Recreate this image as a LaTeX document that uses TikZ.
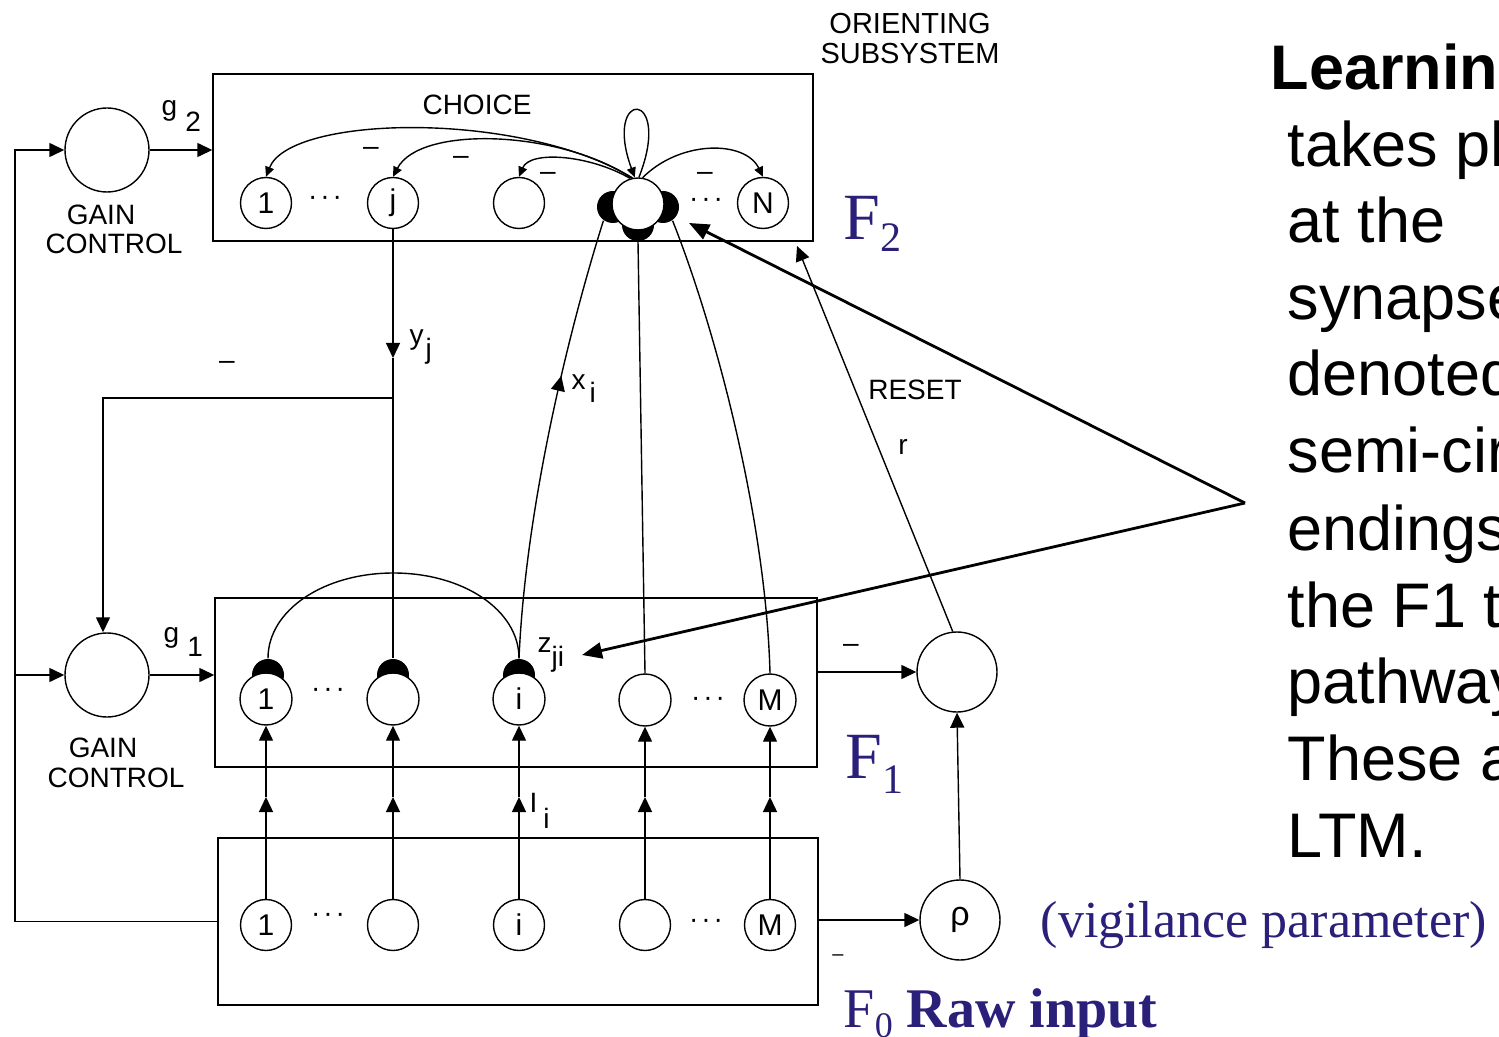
\documentclass[tikz,border=0pt]{standalone}
\usepackage{fontspec}
\setmainfont{Liberation Serif}
\setsansfont{Liberation Sans}
\usetikzlibrary{arrows.meta,decorations.markings}
\definecolor{fblue}{RGB}{42,32,122}
\begin{document}
\begin{tikzpicture}[x=0.5pt,y=-0.5pt,line width=0.7pt,
  arr/.style={-{Triangle[length=7.5pt,width=7pt]}},
  inharr/.style={-{Triangle[length=5pt,width=4.5pt]}},
  bigarr/.style={line width=1.4pt,-{Triangle[length=10pt,width=8pt]}},
  midarr/.style={postaction={decorate},decoration={markings,mark=at position 0.64 with {\arrow{Triangle[length=7.5pt,width=7pt]}}}},
  nd/.style={circle,draw,fill=white,inner sep=0pt,minimum size=25.5pt,font=\sffamily\fontsize{15}{15}\selectfont},
  gc/.style={circle,draw,fill=white,inner sep=0pt,minimum size=42pt},
  blackcap/.style={circle,fill=black,inner sep=0pt,minimum size=16pt},
  layer/.style={draw,inner sep=0pt},
  lbl/.style={font=\sffamily\fontsize{14}{15}\selectfont,inner sep=0pt},
  minus/.style={font=\sffamily\fontsize{14}{14}\selectfont,inner sep=0pt},
  dots/.style={font=\sffamily\fontsize{14}{14}\selectfont,inner sep=0pt},
  bluef/.style={text=fblue,font=\rmfamily\fontsize{33}{33}\selectfont,inner sep=0pt,anchor=base west},
  side/.style={font=\sffamily\fontsize{31.5}{31.5}\selectfont,inner sep=0pt,anchor=base west}]
\useasboundingbox (0,0) rectangle (1499,1037);
\clip (0,0) rectangle (1499,1037);

% layers
\node[layer,minimum width=300pt,minimum height=83.5pt] (F2box) at (513,157.5) {};
\node[layer,minimum width=301pt,minimum height=84.5pt] (F1box) at (516,682.5) {};
\node[layer,minimum width=300pt,minimum height=83.5pt] (F0box) at (518,921.5) {};

% F2 units
\node[blackcap] (dL) at (613,207) {};
\node[blackcap] (dR) at (663,207) {};
\node[blackcap] (dB) at (638,225) {};
\node[nd,minimum size=26pt] (big) at (638,204) {};
\node[nd] (n1) at (266,203) {1};
\node[nd] (nj) at (393,203) {j};
\node[nd] (nb) at (519,203) {};
\node[nd] (nN) at (763,203) {N};
\node[dots] (d2a) at (325,201) {·\hspace{1.5pt}·\hspace{1.5pt}·};
\node[dots] (d2b) at (706,203) {·\hspace{1.5pt}·\hspace{1.5pt}·};

% F1 units
\node[blackcap] (c1) at (268,675) {};
\node[blackcap] (c2) at (393,675) {};
\node[blackcap] (ci) at (519,675) {};
\node[nd,minimum size=26pt] (m1) at (266,699) {1};
\node[nd,minimum size=26pt] (m2) at (393,699) {};
\node[nd,minimum size=26pt] (mi) at (519,699) {i};
\node[nd,minimum size=26pt] (m4) at (645,700) {};
\node[nd,minimum size=26pt] (mM) at (770,700) {M};
\node[dots] (d1a) at (328,693) {·\hspace{1.5pt}·\hspace{1.5pt}·};
\node[dots] (d1b) at (708,702) {·\hspace{1.5pt}·\hspace{1.5pt}·};

% F0 units
\node[nd] (s1) at (266,925) {1};
\node[nd] (s2) at (393,925) {};
\node[nd] (si) at (519,925) {i};
\node[nd] (s4) at (645,925) {};
\node[nd] (sM) at (770,925) {M};
\node[dots] (d0a) at (328,918) {·\hspace{1.5pt}·\hspace{1.5pt}·};
\node[dots] (d0b) at (706,924) {·\hspace{1.5pt}·\hspace{1.5pt}·};

% gain controls and orienting
\node[gc] (g2) at (107,150) {};
\node[gc] (g1) at (107,675) {};
\node[gc,minimum size=40pt] (orient) at (957,672) {};
\node[gc,minimum size=40pt,font=\sffamily\fontsize{17}{17}\selectfont] (rho) at (960,920) {ρ};

% coordinates
\coordinate (Lb) at (15,922);
\coordinate (yj) at (393,358);
\coordinate (br) at (393,398);
\coordinate (brl) at (103,398);
\coordinate (rs) at (797,246);
\coordinate (mid) at (0,797);
\coordinate (pt) at (1245,503);
\coordinate (pA) at (689,223);
\coordinate (pB) at (582,655);

% connectors
\draw[arr] (g2.east) -- (g2.east -| F2box.west);
\draw[arr] (F0box.west) -- (F0box.west -| Lb) -- (Lb |- g2.west) -- (g2.west);
\draw[arr] (Lb |- g1.west) -- (g1.west);
\draw[arr] (g1.east) -- (g1.east -| F1box.west);
\draw[arr] (nj.south) -- (yj);
\draw (yj) -- (c2.north);
\draw[arr] (br) -- (brl) -- (brl |- g1.north);
\draw (c1.north) .. controls (268,610) and (324,573) .. (393.5,573) .. controls (463,573) and (519,610) .. (ci.north);
\draw[midarr] (ci.north) .. controls (526,500) and (572,320) .. (dL.235);
\draw (m4.north) -- (dB.south);
\draw (mM.north) .. controls (766,520) and (716,330) .. (dR.-55);
\draw[arr] (orient.96) -- (rs);
\draw[arr] (orient.west -| F1box.east) -- (orient.west);
\draw[arr] (rho.north) -- (orient.south);
\draw[arr] (rho.west -| F0box.east) -- (rho.west);
\foreach \a/\b in {s1/m1,s2/m2,si/mi,s4/m4,sM/mM}{
  \draw[arr] (\a.north) -- (\a.north |- mid);
  \draw[arr] (\a.north |- mid) -- (\b.south);
}
% F2 competition
\draw[inharr] (big.102) .. controls (520,110) and (290,115) .. (n1.north);
\draw[inharr] (big.104) .. controls (560,130) and (420,125) .. (nj.north);
\draw[inharr] (big.107) .. controls (590,155) and (530,150) .. (nb.north);
\draw[inharr] (big.80) .. controls (680,140) and (745,140) .. (nN.north);
\draw[inharr] (big.88) .. controls (674,88) and (602,88) .. (big.97);

% pointers
\draw[bigarr] (pt) -- (pA);
\draw[bigarr] (pt) -- (pB);

% labels
\node[lbl] (choice) at (477,105) {CHOICE};
\node[lbl,align=center,font=\sffamily\fontsize{14.5}{15}\selectfont] (orlbl) at (910,39) {ORIENTING\\SUBSYSTEM};
\node[lbl] (gain2a) at (101,215) {GAIN};
\node[lbl] (gain2b) at (114,244) {CONTROL};
\node[lbl] (gain1a) at (103,748) {GAIN};
\node[lbl] (gain1b) at (116,778) {CONTROL};
\node[lbl,anchor=base west] (g2lbl) at (161,116) {g\hspace{4pt}\raisebox{-8pt}{2}};
\node[lbl,anchor=base west] (g1lbl) at (163,642) {g\hspace{4pt}\raisebox{-7pt}{1}};
\node[lbl,anchor=base west] (yjlbl) at (409,345) {y\hspace{1pt}\raisebox{-7pt}{j}};
\node[lbl,anchor=base west] (xilbl) at (571,390) {x\hspace{2pt}\raisebox{-6.5pt}{i}};
\node[lbl,anchor=base west] (zlbl) at (537,652) {z\raisebox{-7pt}{ji}};
\node[lbl,anchor=base west] (Ilbl) at (529,812) {I\hspace{3pt}\raisebox{-8pt}{i}};
\node[lbl] (reset) at (915,390) {RESET};
\node[lbl] (rlbl) at (903,447) {r};
\node[minus] (mn1) at (371,151) {–};
\node[minus] (mn2) at (461,160) {–};
\node[minus] (mn3) at (548,176) {–};
\node[minus] (mn4) at (705,176) {–};
\node[minus] (mn5) at (227,365) {–};
\node[minus] (mn6) at (851,648) {–};
\node[minus,font=\sffamily\fontsize{10}{10}\selectfont] (mn7) at (838,958) {–};

% blue labels
\node[bluef] (F2lbl) at (843,240) {F\raisebox{-6pt}{\fontsize{21}{21}\selectfont 2}};
\node[bluef] (F1lbl) at (845,778) {F\raisebox{-7.5pt}{\fontsize{21}{21}\selectfont 1}};
\node[bluef,font=\rmfamily\fontsize{28}{28}\selectfont] (F0lbl) at (843,1027) {F\raisebox{-5pt}{\fontsize{18}{18}\selectfont 0} \textbf{Raw input}};
\node[bluef,font=\rmfamily\fontsize{26}{26}\selectfont] (vig) at (1040,937) {(vigilance parameter)};

% side text
\node[side,font=\sffamily\bfseries\fontsize{31.5}{31.5}\selectfont] (t1) at (1270,90) {Learnin};
\node[side] (t2) at (1287,167) {takes pl};
\node[side] (t3) at (1287,243) {at the};
\node[side] (t4) at (1287,320) {synapse};
\node[side] (t5) at (1287,396) {denoted};
\node[side] (t6) at (1287,473) {semi-cir};
\node[side] (t7) at (1287,550) {endings};
\node[side] (t8) at (1287,627) {the F1 t};
\node[side] (t9) at (1287,703) {pathway};
\node[side] (t10) at (1287,780) {These a};
\node[side] (t11) at (1287,857) {LTM.};
\end{tikzpicture}
\end{document}
